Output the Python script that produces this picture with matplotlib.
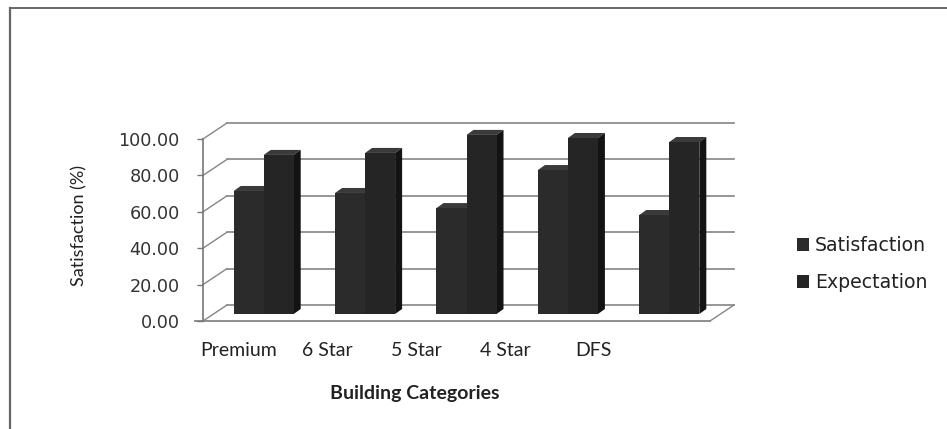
import numpy as np
import matplotlib
matplotlib.use('Agg')
import matplotlib.pyplot as plt
from matplotlib.patches import Polygon, Patch
from matplotlib.lines import Line2D
from matplotlib.transforms import ScaledTranslation, IdentityTransform

# ---------------- data ----------------
categories = ['Premium', '6 Star', '5 Star', '4 Star', 'DFS']
satisfaction = [67.6, 66.5, 58.2, 79.1, 54.4]
expectation = [87.4, 88.5, 98.4, 96.7, 94.5]
series_names = ['Satisfaction', 'Expectation']
y_ticks = [0, 20, 40, 60, 80, 100]

# ---------------- layout ----------------
W, H, DPI = 947, 429, 100
fig = plt.figure(figsize=(W / DPI, H / DPI), dpi=DPI)
fig.patch.set_facecolor('white')

L, R = 203, 710          # front floor left/right (px)
B0, T100 = 321, 139      # y=0 / y=100 on front axis (px from top)
ax = fig.add_axes([L / W, 1 - B0 / H, (R - L) / W, (B0 - T100) / H])
ax.set_xlim(-0.5, len(categories) - 0.5)
ax.set_ylim(0, 100)
ax.patch.set_visible(False)
for name, sp in ax.spines.items():
    sp.set_visible(name == 'left')
ax.spines['left'].set_color('#777777')
ax.spines['left'].set_linewidth(1.2)

grid_col = '#858585'
back_dx, back_dy = 24, 16     # depth of the 3-D box (px)
bar_dx, bar_dy = 10, 7        # bars sit half-way into the box
depth_dx, depth_dy = 7, 5     # bar thickness


def off(dx, dy):
    return ax.transData + ScaledTranslation(dx / DPI, dy / DPI, fig.dpi_scale_trans)


xmin, xmax = ax.get_xlim()

# back wall gridlines
for v in y_ticks:
    ax.plot([xmin, xmax], [v, v], transform=off(back_dx, back_dy),
            color=grid_col, lw=1.2, clip_on=False, zorder=1)
    p0 = ax.transData.transform((xmin, v))
    ax.add_line(Line2D([p0[0], p0[0] + back_dx], [p0[1], p0[1] + back_dy],
                       transform=IdentityTransform(), color=grid_col, lw=1.0,
                       clip_on=False, zorder=1))

# floor front edge and right diagonal
pl = ax.transData.transform((xmin, 0))
pr = ax.transData.transform((xmax, 0))
ax.add_line(Line2D([pl[0] - 8, pr[0]], [pl[1], pr[1]], transform=IdentityTransform(),
                   color=grid_col, lw=1.3, clip_on=False, zorder=1))
ax.add_line(Line2D([pr[0], pr[0] + back_dx], [pr[1], pr[1] + back_dy],
                   transform=IdentityTransform(), color=grid_col, lw=1.0,
                   clip_on=False, zorder=1))

# ---------------- bars ----------------
x = np.arange(len(categories))
bw = 0.296
front_cols = ['#2b2b2b', '#252525']
side_col = '#131313'
top_col = '#3a3a3a'
tr_bar = off(bar_dx, bar_dy)

for j, vals in enumerate([satisfaction, expectation]):
    lefts = x - bw + j * bw
    bars = ax.bar(lefts, vals, bw, align='edge', color=front_cols[j],
                  edgecolor='none', clip_on=False)
    for k, (p, v) in enumerate(zip(bars, vals)):
        base = 2 + k * 0.1 + j * 0.03
        p.set_transform(tr_bar)
        p.set_zorder(base + 0.02)
        bl = tr_bar.transform((lefts[k], 0))
        br = tr_bar.transform((lefts[k] + bw, 0))
        tl = tr_bar.transform((lefts[k], v))
        trr = tr_bar.transform((lefts[k] + bw, v))
        d = np.array([depth_dx, depth_dy])
        side = Polygon([br, br + d, trr + d, trr], closed=True, facecolor=side_col,
                       edgecolor='none', transform=IdentityTransform(), clip_on=False,
                       zorder=base + 0.01)
        top = Polygon([tl, trr, trr + d, tl + d], closed=True, facecolor=top_col,
                      edgecolor='none', transform=IdentityTransform(), clip_on=False,
                      zorder=base)
        ax.add_patch(side)
        ax.add_patch(top)

# ---------------- axes text ----------------
ax.set_yticks(y_ticks)
ax.set_yticklabels([f'{v:.2f}' for v in y_ticks], family='DejaVu Sans',
                   fontsize=12.7, color='#333333')
ax.tick_params(axis='y', length=4.3, width=1.0, color='#777777', pad=12.5)

ax.set_xticks(x * 0.874 - 0.145)
ax.set_xticklabels(categories, family='Lato', fontsize=14, color='#222222')
ax.tick_params(axis='x', length=0, pad=15)

ax.set_ylabel('Satisfaction (%)', family='Lato', fontsize=13, color='#222222')
ax.yaxis.set_label_coords((79 - L) / (R - L), (B0 - 225) / (B0 - T100))
ax.yaxis.label.set_va('center')

ax.set_xlabel('Building Categories', family='Lato', fontweight='bold',
              fontsize=14, color='#222222')
ax.xaxis.set_label_coords((415 - L) / (R - L), (B0 - 394) / (B0 - T100))
ax.xaxis.label.set_va('center')

# ---------------- legend ----------------
handles = [Patch(facecolor=front_cols[0], edgecolor='none'),
           Patch(facecolor=front_cols[1], edgecolor='none')]
fig.legend(handles, series_names, loc='center left',
           bbox_to_anchor=(797 / W, 1 - 264 / H), frameon=False,
           prop={'family': 'DejaVu Sans', 'size': 13.6},
           handlelength=0.65, handleheight=0.65, handletextpad=0.3,
           labelspacing=0.95, borderpad=0, borderaxespad=0, labelcolor='#222222')

# ---------------- outer frame (top & left only) ----------------
fig.add_artist(Line2D([10 / W, 10 / W], [0, 1 - 8 / H], transform=fig.transFigure,
                      color='#666666', lw=1.6))
fig.add_artist(Line2D([10 / W, 1], [1 - 8 / H, 1 - 8 / H], transform=fig.transFigure,
                      color='#666666', lw=1.4))

fig.savefig('out.png', dpi=DPI)
